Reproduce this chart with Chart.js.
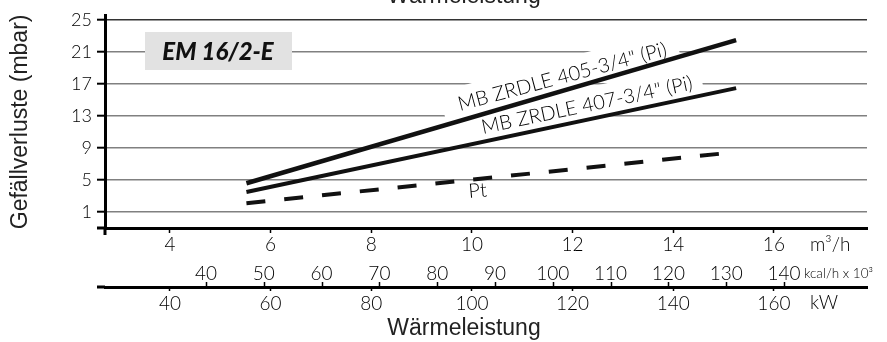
<!DOCTYPE html>
<html>
<head>
<meta charset="utf-8">
<script src="https://cdn.jsdelivr.net/npm/chart.js@4"></script>
<style>
  html, body { margin: 0; padding: 0; background: #fff; }
</style>
</head>
<body>
<canvas id="myChart" width="887" height="342"></canvas>
<script>
// gas flow (m3/h) at both ends of the curves
const flowEnds = [5.52, 15.25];
// pressure loss in mbar at those flows
const loss405 = [4.6, 22.5];
const loss407 = [3.5, 16.5];
const lossPt = [2.1, 8.5];

// tick labels
const yTicks = [1, 5, 9, 13, 17, 21, 25];
const flowTicks = [4, 6, 8, 10, 12, 14, 16];
const kcalTicks = [40, 50, 60, 70, 80, 90, 100, 110, 120, 130, 140];
const kwTicks = [40, 60, 80, 100, 120, 140, 160];

const tickFont = { family: 'Lato', size: 19, weight: 300 };
const ink = '#000';

function pts(ys) {
    return flowEnds.map((f, i) => ({ x: f, y: ys[i] }));
}

function setTicks(list) {
    return (s) => { s.ticks = list.map(v => ({ value: v })); };
}

// rotated label with a white patch behind it (cuts the grid lines)
function patch(ctx, text, x, y, deg, pad) {
    ctx.save();
    ctx.translate(x, y);
    ctx.rotate(deg * Math.PI / 180);
    const w = ctx.measureText(text).width;
    ctx.fillStyle = '#fff';
    ctx.fillRect(-pad[0], -pad[1], w + pad[0] + pad[2], pad[1] + pad[3]);
    ctx.restore();
}
function rotText(ctx, text, x, y, deg) {
    ctx.save();
    ctx.translate(x, y);
    ctx.rotate(deg * Math.PI / 180);
    ctx.fillText(text, 0, 0);
    ctx.restore();
}

const extras = {
    id: 'extras',
    beforeDatasetsDraw(chart) {
        const ctx = chart.ctx;
        ctx.save();
        ctx.font = '300 20px Lato';
        ctx.textBaseline = 'alphabetic';
        const a = 'MB ZRDLE 405-3/4" (Pi)';
        const b = 'MB ZRDLE 407-3/4" (Pi)';
        patch(ctx, a, 460, 111, -15, [16, 24, 12, 8]);
        patch(ctx, b, 483, 134, -12, [12, 24, 10, 8]);
        ctx.fillStyle = ink;
        rotText(ctx, a, 460, 111, -15);
        rotText(ctx, b, 483, 134, -12);
        rotText(ctx, 'Pt', 469, 198, -5);

        // model box
        ctx.fillStyle = '#e2e2e2';
        ctx.fillRect(145, 32, 147, 38);
        ctx.fillStyle = '#111';
        ctx.font = 'italic 900 24px Lato';
        ctx.textAlign = 'center';
        ctx.textBaseline = 'middle';
        ctx.fillText('EM 16/2-E', 218, 52);
        ctx.restore();
    },
    afterDraw(chart) {
        const ctx = chart.ctx;
        const area = chart.chartArea;
        const kw = chart.scales.kw;
        const kc = chart.scales.kcal;
        ctx.save();
        ctx.strokeStyle = '#000';
        ctx.lineWidth = 3;
        ctx.beginPath();
        // axis stubs that cross at the corner
        ctx.moveTo(area.left, area.bottom);
        ctx.lineTo(area.left, area.bottom + 7);
        ctx.moveTo(area.left - 8, area.bottom);
        ctx.lineTo(area.left, area.bottom);
        ctx.moveTo(area.left - 8, kw.top);
        ctx.lineTo(area.left, kw.top);
        ctx.stroke();

        // kcal tick marks stand on the kW line
        ctx.lineWidth = 1.5;
        ctx.beginPath();
        kcalTicks.forEach(v => {
            const x = Math.round(kc.getPixelForValue(v)) + 0.5;
            ctx.moveTo(x, kw.top - 5);
            ctx.lineTo(x, kw.top);
        });
        ctx.stroke();

        // units
        ctx.fillStyle = ink;
        ctx.textBaseline = 'middle';
        ctx.textAlign = 'left';
        ctx.font = '300 19px Lato';
        ctx.fillText('m³/h', 810, 245);
        ctx.fillText('kW', 810, 303);
        ctx.font = '300 13.5px Lato';
        ctx.fillText('kcal/h x 10³', 804, 274);

        // x title, repeated at top (cut off by the edge)
        ctx.font = '23px "Liberation Sans"';
        ctx.textAlign = 'center';
        ctx.textBaseline = 'alphabetic';
        ctx.fillStyle = '#222';
        ctx.fillText('Wärmeleistung', 464, 335);
        ctx.fillText('Wärmeleistung', 464, 3);
        ctx.restore();
    }
};

const ctx = document.getElementById('myChart');
const cht = new Chart(ctx, {
    type: 'line',
    data: {
        datasets: [
            { label: 'MB ZRDLE 405-3/4" (Pi)', data: pts(loss405), borderColor: '#111', borderWidth: 4.5 },
            { label: 'MB ZRDLE 407-3/4" (Pi)', data: pts(loss407), borderColor: '#111', borderWidth: 4 },
            { label: 'Pt', data: pts(lossPt), borderColor: '#111', borderWidth: 4, borderDash: [19, 19] }
        ]
    },
    options: {
        responsive: false,
        animation: false,
        devicePixelRatio: 1,
        layout: { padding: { top: 13, right: 20, left: 0, bottom: 0 } },
        elements: { point: { radius: 0 }, line: { tension: 0, borderCapStyle: 'butt' } },
        plugins: { legend: { display: false }, tooltip: { enabled: false } },
        scales: {
            x: {
                type: 'linear', position: 'bottom', weight: 0,
                min: 2.71, max: 17.85,
                afterBuildTicks: setTicks(flowTicks),
                afterFit: (s) => { s.height = 30; },
                grid: { drawOnChartArea: false, tickLength: 5, tickColor: '#000', tickWidth: 1.5 },
                border: { color: '#000', width: 3 },
                ticks: { font: tickFont, color: ink, padding: 0, maxRotation: 0, autoSkip: false }
            },
            kcal: {
                type: 'linear', position: 'bottom', weight: 1,
                min: 22.53, max: 154.36,
                afterBuildTicks: setTicks(kcalTicks),
                afterFit: (s) => { s.height = 29; },
                grid: { display: false, drawTicks: false },
                border: { display: false },
                ticks: { font: tickFont, color: ink, padding: 4, maxRotation: 0, autoSkip: false }
            },
            kw: {
                type: 'linear', position: 'bottom', weight: 2,
                min: 27.1, max: 178.5,
                afterBuildTicks: setTicks(kwTicks),
                afterFit: (s) => { s.height = 55; },
                grid: { drawOnChartArea: false, tickLength: 4, tickColor: '#000', tickWidth: 1.5 },
                border: { color: '#000', width: 3 },
                ticks: { font: tickFont, color: ink, padding: 1, maxRotation: 0, autoSkip: false }
            },
            y: {
                min: -1, max: 25.55,
                afterBuildTicks: setTicks(yTicks),
                afterFit: (s) => { s.width = 105; },
                grid: {
                    color: (c) => (c.tick && c.tick.value === 25) ? '#333' : '#808080',
                    lineWidth: 1.4,
                    tickLength: 8, tickColor: '#000', tickWidth: 2
                },
                border: { color: '#000', width: 3 },
                ticks: { font: { family: 'Lato', size: 18, weight: 300 }, color: ink, padding: 5 },
                title: {
                    display: true, text: 'Gefällverluste (mbar)', color: '#222',
                    font: { family: 'Liberation Sans', size: 23 },
                    padding: { top: 7, bottom: 0 }
                }
            }
        }
    },
    plugins: [extras]
});
</script>
</body>
</html>
